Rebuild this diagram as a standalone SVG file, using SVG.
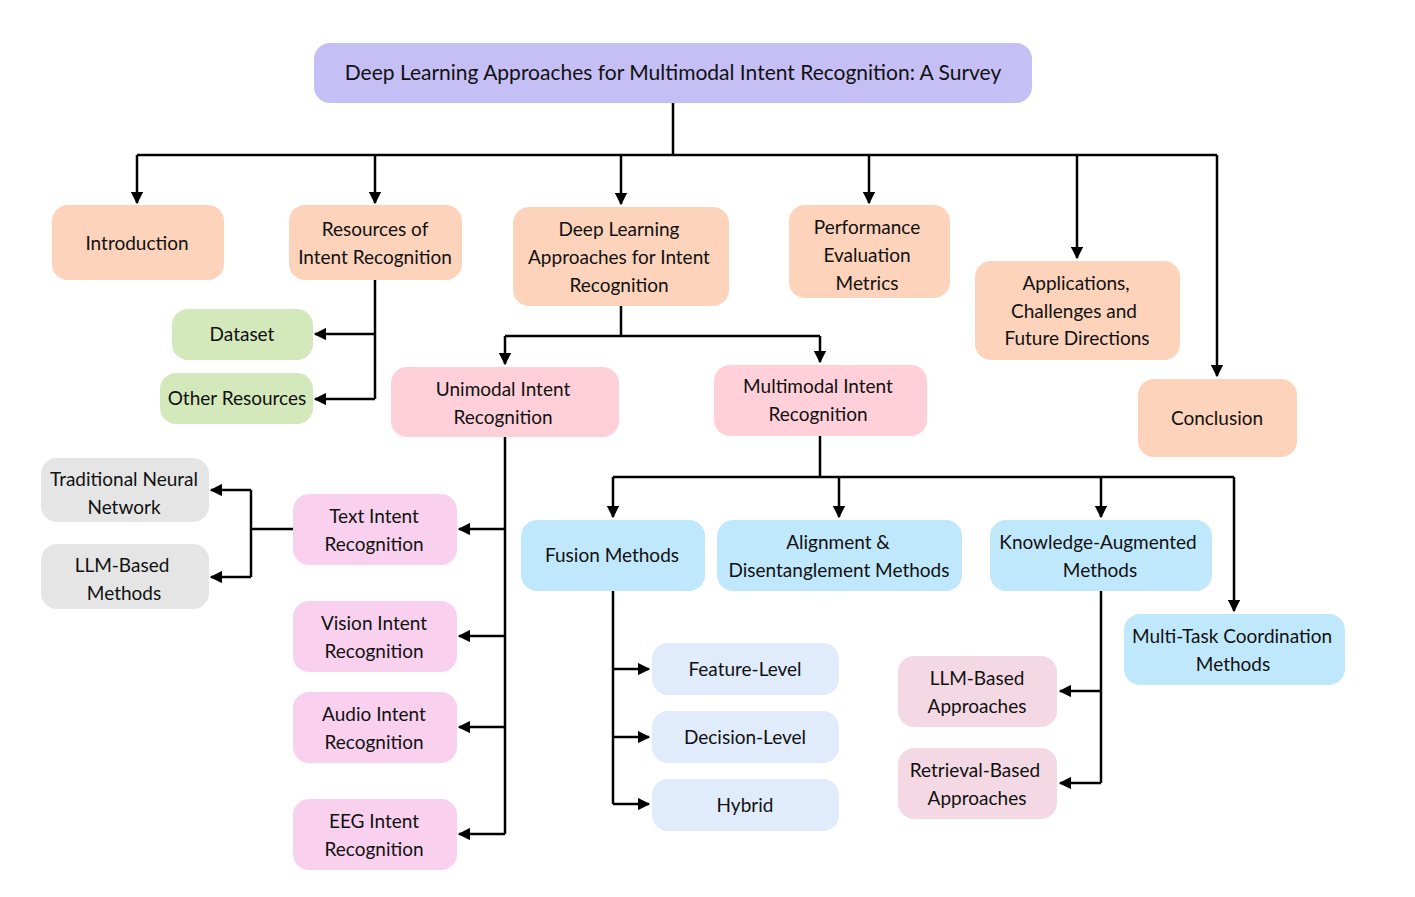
<svg xmlns="http://www.w3.org/2000/svg" width="1415" height="897" viewBox="0 0 1415 897">
<defs>
<marker id="a" viewBox="0 0 10 10" refX="9" refY="5" markerWidth="5" markerHeight="5" orient="auto"><path d="M0,0L10,5L0,10z" fill="#000"/></marker>
<style>
text{font-family:Lato,"Open Sans",sans-serif;font-size:19px;fill:#111;text-anchor:middle}
.c path{fill:none;stroke:#000;stroke-width:2.5}
.o{fill:#fdd3bb}.g{fill:#d3e8bb}.p{fill:#ffd0d9}.m{fill:#f9d1ee}.y{fill:#e5e5e5}.b{fill:#c0e8fd}.l{fill:#e0ebfc}.r{fill:#f4d9e4}
</style>
</defs>
<rect width="1415" height="897" fill="#fff"/>
<g class="c">
<path d="M673,103V154M137,155H1217"/>
<path d="M137,155V203" marker-end="url(#a)"/>
<path d="M375,155V203" marker-end="url(#a)"/>
<path d="M621,155V204" marker-end="url(#a)"/>
<path d="M869,155V203" marker-end="url(#a)"/>
<path d="M1077,155V258" marker-end="url(#a)"/>
<path d="M1217,155V376" marker-end="url(#a)"/>
<path d="M375,280V399"/>
<path d="M375,334H315" marker-end="url(#a)"/>
<path d="M375,399H315" marker-end="url(#a)"/>
<path d="M621,306V336M505,336H820"/>
<path d="M505,336V364" marker-end="url(#a)"/>
<path d="M820,336V362" marker-end="url(#a)"/>
<path d="M505,437V834"/>
<path d="M505,529H459" marker-end="url(#a)"/>
<path d="M505,636H459" marker-end="url(#a)"/>
<path d="M505,727H459" marker-end="url(#a)"/>
<path d="M505,834H459" marker-end="url(#a)"/>
<path d="M293,529H251M251,490V577"/>
<path d="M251,490H211" marker-end="url(#a)"/>
<path d="M251,577H211" marker-end="url(#a)"/>
<path d="M820,436V477M613,477H1234"/>
<path d="M613,477V517" marker-end="url(#a)"/>
<path d="M839,477V517" marker-end="url(#a)"/>
<path d="M1101,477V517" marker-end="url(#a)"/>
<path d="M1234,477V611" marker-end="url(#a)"/>
<path d="M613,591V804"/>
<path d="M613,669H649" marker-end="url(#a)"/>
<path d="M613,737H649" marker-end="url(#a)"/>
<path d="M613,804H649" marker-end="url(#a)"/>
<path d="M1101,591V783"/>
<path d="M1101,691H1060" marker-end="url(#a)"/>
<path d="M1101,783H1060" marker-end="url(#a)"/>
</g>
<g id="title"><rect x="314" y="43" width="718" height="60" rx="16" fill="#c5bff6"/><text x="673" y="80" style="font-size:21px">Deep Learning Approaches for Multimodal Intent Recognition: A Survey</text></g>
<g id="intro"><rect class="o" x="52" y="205" width="172" height="75" rx="16"/><text x="137" y="250">Introduction</text></g>
<g id="resources"><rect class="o" x="289" y="205" width="173" height="75" rx="16"/><text x="375" y="236">Resources of</text><text x="375" y="264">Intent Recognition</text></g>
<g id="dl"><rect class="o" x="513" y="207" width="216" height="99" rx="16"/><text x="619" y="236">Deep Learning</text><text x="619" y="264">Approaches  for Intent</text><text x="619" y="292">Recognition</text></g>
<g id="perf"><rect class="o" x="789" y="205" width="161" height="93" rx="16"/><text x="867" y="234">Performance</text><text x="867" y="262">Evaluation</text><text x="867" y="290">Metrics</text></g>
<g id="apps"><rect class="o" x="975" y="261" width="205" height="99" rx="16"/><text x="1076" y="290">Applications,</text><text x="1074" y="318">Challenges and</text><text x="1077" y="345">Future Directions</text></g>
<g id="concl"><rect class="o" x="1138" y="379" width="159" height="78" rx="16"/><text x="1217" y="425">Conclusion</text></g>
<g id="dataset"><rect class="g" x="172" y="309" width="141" height="51" rx="16"/><text x="242" y="341">Dataset</text></g>
<g id="other"><rect class="g" x="160" y="373" width="153" height="51" rx="16"/><text x="237" y="405">Other Resources</text></g>
<g id="uni"><rect class="p" x="391" y="367" width="228" height="70" rx="16"/><text x="503" y="396">Unimodal Intent</text><text x="503" y="424">Recognition</text></g>
<g id="multi"><rect class="p" x="714" y="365" width="213" height="71" rx="16"/><text x="818" y="393">Multimodal Intent</text><text x="818" y="421">Recognition</text></g>
<g id="text"><rect class="m" x="293" y="494" width="164" height="71" rx="16"/><text x="374" y="523">Text Intent</text><text x="374" y="551">Recognition</text></g>
<g id="vision"><rect class="m" x="293" y="601" width="164" height="71" rx="16"/><text x="374" y="630">Vision Intent</text><text x="374" y="658">Recognition</text></g>
<g id="audio"><rect class="m" x="293" y="692" width="164" height="71" rx="16"/><text x="374" y="721">Audio Intent</text><text x="374" y="749">Recognition</text></g>
<g id="eeg"><rect class="m" x="293" y="799" width="164" height="71" rx="16"/><text x="374" y="828">EEG Intent</text><text x="374" y="856">Recognition</text></g>
<g id="trad"><rect class="y" x="41" y="458" width="168" height="64" rx="16"/><text x="124" y="486">Traditional Neural</text><text x="124" y="514">Network</text></g>
<g id="llm1"><rect class="y" x="41" y="544" width="168" height="65" rx="16"/><text x="122" y="572">LLM-Based</text><text x="124" y="600">Methods</text></g>
<g id="fusion"><rect class="b" x="521" y="520" width="184" height="71" rx="16"/><text x="612" y="562">Fusion Methods</text></g>
<g id="align"><rect class="b" x="717" y="520" width="245" height="71" rx="16"/><text x="838" y="549">Alignment &amp;</text><text x="839" y="577">Disentanglement Methods</text></g>
<g id="know"><rect class="b" x="990" y="520" width="222" height="71" rx="16"/><text x="1098" y="549">Knowledge-Augmented</text><text x="1100" y="577">Methods</text></g>
<g id="mtc"><rect class="b" x="1124" y="614" width="221" height="71" rx="16"/><text x="1232" y="643">Multi-Task Coordination</text><text x="1233" y="671">Methods</text></g>
<g id="feat"><rect class="l" x="652" y="643" width="187" height="52" rx="16"/><text x="745" y="676">Feature-Level</text></g>
<g id="dec"><rect class="l" x="652" y="711" width="187" height="52" rx="16"/><text x="745" y="744">Decision-Level</text></g>
<g id="hyb"><rect class="l" x="652" y="779" width="187" height="52" rx="16"/><text x="745" y="812">Hybrid</text></g>
<g id="llm2"><rect class="r" x="898" y="656" width="159" height="71" rx="16"/><text x="977" y="685">LLM-Based</text><text x="977" y="713">Approaches</text></g>
<g id="retr"><rect class="r" x="898" y="748" width="159" height="71" rx="16"/><text x="975" y="777">Retrieval-Based</text><text x="977" y="805">Approaches</text></g>
</svg>
